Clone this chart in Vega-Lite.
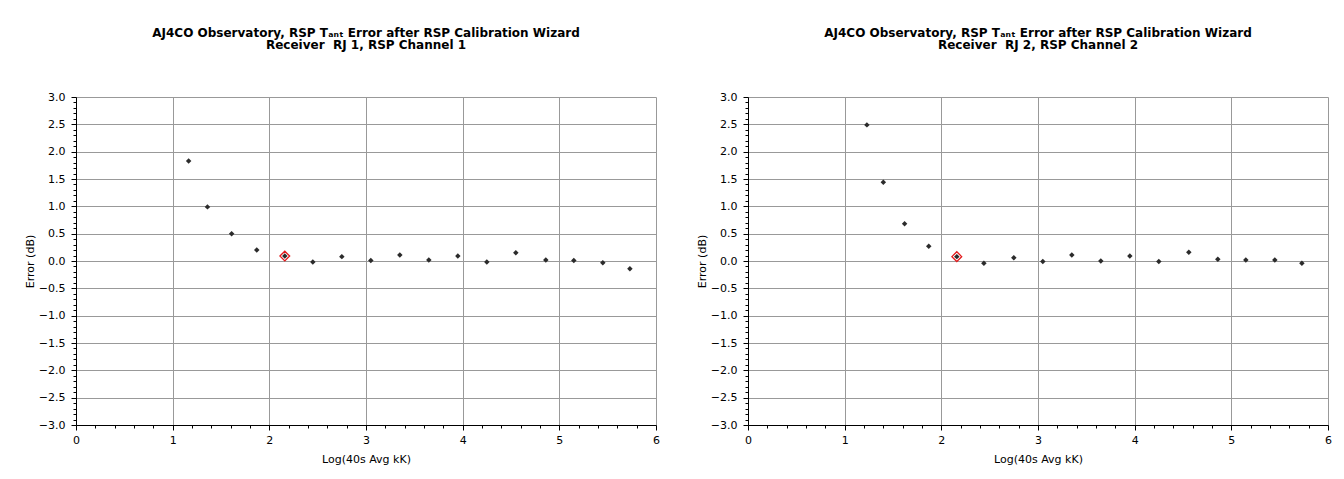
{
  "$schema": "https://vega.github.io/schema/vega-lite/v6.json",
  "padding": {"left": 24, "top": 26, "right": 5, "bottom": 5},
  "background": "white",
  "config": {
    "font": "DejaVu Sans",
    "view": {"stroke": null},
    "concat": {"spacing": 36},
    "axis": {"labelFontSize": 11, "titleFontSize": 11, "titleFontWeight": "normal", "labelColor": "#000", "titleColor": "#000", "domainColor": "#000", "tickColor": "#000", "gridColor": "#999", "gridWidth": 1, "labelOverlap": false, "labelFlush": false}
  },
  "datasets": {
    "rj1": [
      {"x": 1.165, "y": 1.83, "highlight": false},
      {"x": 1.36, "y": 0.99, "highlight": false},
      {"x": 1.61, "y": 0.50, "highlight": false},
      {"x": 1.87, "y": 0.20, "highlight": false},
      {"x": 2.16, "y": 0.09, "highlight": true},
      {"x": 2.45, "y": -0.02, "highlight": false},
      {"x": 2.75, "y": 0.08, "highlight": false},
      {"x": 3.05, "y": 0.01, "highlight": false},
      {"x": 3.35, "y": 0.11, "highlight": false},
      {"x": 3.65, "y": 0.02, "highlight": false},
      {"x": 3.95, "y": 0.09, "highlight": false},
      {"x": 4.25, "y": -0.02, "highlight": false},
      {"x": 4.55, "y": 0.15, "highlight": false},
      {"x": 4.86, "y": 0.02, "highlight": false},
      {"x": 5.15, "y": 0.01, "highlight": false},
      {"x": 5.45, "y": -0.03, "highlight": false},
      {"x": 5.73, "y": -0.14, "highlight": false}
    ],
    "rj2": [
      {"x": 1.23, "y": 2.49, "highlight": false},
      {"x": 1.40, "y": 1.44, "highlight": false},
      {"x": 1.62, "y": 0.68, "highlight": false},
      {"x": 1.87, "y": 0.27, "highlight": false},
      {"x": 2.16, "y": 0.08, "highlight": true},
      {"x": 2.44, "y": -0.04, "highlight": false},
      {"x": 2.75, "y": 0.06, "highlight": false},
      {"x": 3.05, "y": -0.01, "highlight": false},
      {"x": 3.35, "y": 0.11, "highlight": false},
      {"x": 3.65, "y": 0.0, "highlight": false},
      {"x": 3.95, "y": 0.09, "highlight": false},
      {"x": 4.25, "y": -0.01, "highlight": false},
      {"x": 4.56, "y": 0.16, "highlight": false},
      {"x": 4.86, "y": 0.03, "highlight": false},
      {"x": 5.15, "y": 0.02, "highlight": false},
      {"x": 5.45, "y": 0.02, "highlight": false},
      {"x": 5.73, "y": -0.04, "highlight": false}
    ]
  },
  "hconcat": [
    {
      "width": 580, "height": 328,
      "title": {"text": ["AJ4CO Observatory, RSP Tₐₙₜ Error after RSP Calibration Wizard", "Receiver\u00a0 RJ 1, RSP Channel 1"], "fontSize": 12, "fontWeight": "bold", "offset": 39, "lineHeight": 12.5, "anchor": "middle"},
      "data": {"name": "rj1"},
      "layer": [
        {
          "transform": [{"filter": "datum.highlight"}],
          "mark": {"type": "point", "shape": "diamond", "filled": false, "stroke": "#e31a1c", "strokeWidth": 1.3, "size": 95, "opacity": 1},
          "encoding": {
            "x": {"field": "x", "type": "quantitative", "scale": {"domain": [0, 6], "nice": false, "zero": false},
              "axis": {"values": [0,0.2,0.4,0.6,0.8,1,1.2,1.4,1.6,1.8,2,2.2,2.4,2.6,2.8,3,3.2,3.4,3.6,3.8,4,4.2,4.4,4.6,4.8,5,5.2,5.4,5.6,5.8,6], "tickCount": 31,
                "labelExpr": "abs(datum.value - round(datum.value)) < 0.001 ? format(datum.value, 'd') : ''",
                "tickSize": {"condition": {"test": "abs(datum.value - round(datum.value)) < 0.001", "value": 5}, "value": 3},
                "gridOpacity": {"condition": {"test": "abs(datum.value - round(datum.value)) < 0.001", "value": 1}, "value": 0},
                "grid": true, "labelPadding": 4, "title": "Log(40s Avg kK)", "titlePadding": 8}},
            "y": {"field": "y", "type": "quantitative", "scale": {"domain": [-3, 3], "nice": false, "zero": false},
              "axis": {"values": [-3,-2.9,-2.8,-2.7,-2.6,-2.5,-2.4,-2.3,-2.2,-2.1,-2,-1.9,-1.8,-1.7,-1.6,-1.5,-1.4,-1.3,-1.2,-1.1,-1,-0.9,-0.8,-0.7,-0.6,-0.5,-0.4,-0.3,-0.2,-0.1,0,0.1,0.2,0.3,0.4,0.5,0.6,0.7,0.8,0.9,1,1.1,1.2,1.3,1.4,1.5,1.6,1.7,1.8,1.9,2,2.1,2.2,2.3,2.4,2.5,2.6,2.7,2.8,2.9,3], "tickCount": 61,
                "labelExpr": "abs(datum.value*2 - round(datum.value*2)) < 0.001 ? format(datum.value, '.1f') : ''",
                "tickSize": {"condition": {"test": "abs(datum.value*2 - round(datum.value*2)) < 0.001", "value": 5}, "value": 3},
                "gridOpacity": {"condition": {"test": "abs(datum.value*2 - round(datum.value*2)) < 0.001", "value": 1}, "value": 0},
                "grid": true, "labelPadding": 6, "title": "Error (dB)", "titlePadding": 3}}
          }
        },
        {
          "mark": {"type": "point", "shape": "diamond", "filled": true, "color": "#2b2b2b", "size": 30, "opacity": 1},
          "encoding": {"x": {"field": "x", "type": "quantitative"}, "y": {"field": "y", "type": "quantitative"}}
        }
      ]
    },
    {
      "width": 580, "height": 328,
      "title": {"text": ["AJ4CO Observatory, RSP Tₐₙₜ Error after RSP Calibration Wizard", "Receiver\u00a0 RJ 2, RSP Channel 2"], "fontSize": 12, "fontWeight": "bold", "offset": 39, "lineHeight": 12.5, "anchor": "middle"},
      "data": {"name": "rj2"},
      "layer": [
        {
          "transform": [{"filter": "datum.highlight"}],
          "mark": {"type": "point", "shape": "diamond", "filled": false, "stroke": "#e31a1c", "strokeWidth": 1.3, "size": 95, "opacity": 1},
          "encoding": {
            "x": {"field": "x", "type": "quantitative", "scale": {"domain": [0, 6], "nice": false, "zero": false},
              "axis": {"values": [0,0.2,0.4,0.6,0.8,1,1.2,1.4,1.6,1.8,2,2.2,2.4,2.6,2.8,3,3.2,3.4,3.6,3.8,4,4.2,4.4,4.6,4.8,5,5.2,5.4,5.6,5.8,6], "tickCount": 31,
                "labelExpr": "abs(datum.value - round(datum.value)) < 0.001 ? format(datum.value, 'd') : ''",
                "tickSize": {"condition": {"test": "abs(datum.value - round(datum.value)) < 0.001", "value": 5}, "value": 3},
                "gridOpacity": {"condition": {"test": "abs(datum.value - round(datum.value)) < 0.001", "value": 1}, "value": 0},
                "grid": true, "labelPadding": 4, "title": "Log(40s Avg kK)", "titlePadding": 8}},
            "y": {"field": "y", "type": "quantitative", "scale": {"domain": [-3, 3], "nice": false, "zero": false},
              "axis": {"values": [-3,-2.9,-2.8,-2.7,-2.6,-2.5,-2.4,-2.3,-2.2,-2.1,-2,-1.9,-1.8,-1.7,-1.6,-1.5,-1.4,-1.3,-1.2,-1.1,-1,-0.9,-0.8,-0.7,-0.6,-0.5,-0.4,-0.3,-0.2,-0.1,0,0.1,0.2,0.3,0.4,0.5,0.6,0.7,0.8,0.9,1,1.1,1.2,1.3,1.4,1.5,1.6,1.7,1.8,1.9,2,2.1,2.2,2.3,2.4,2.5,2.6,2.7,2.8,2.9,3], "tickCount": 61,
                "labelExpr": "abs(datum.value*2 - round(datum.value*2)) < 0.001 ? format(datum.value, '.1f') : ''",
                "tickSize": {"condition": {"test": "abs(datum.value*2 - round(datum.value*2)) < 0.001", "value": 5}, "value": 3},
                "gridOpacity": {"condition": {"test": "abs(datum.value*2 - round(datum.value*2)) < 0.001", "value": 1}, "value": 0},
                "grid": true, "labelPadding": 6, "title": "Error (dB)", "titlePadding": 3}}
          }
        },
        {
          "mark": {"type": "point", "shape": "diamond", "filled": true, "color": "#2b2b2b", "size": 30, "opacity": 1},
          "encoding": {"x": {"field": "x", "type": "quantitative"}, "y": {"field": "y", "type": "quantitative"}}
        }
      ]
    }
  ]
}
